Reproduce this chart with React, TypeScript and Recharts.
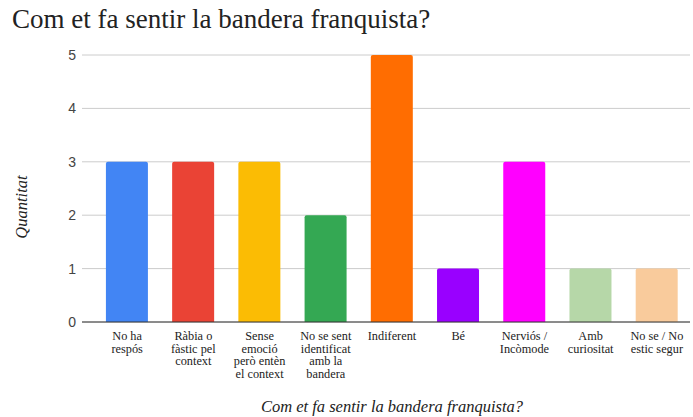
import React from 'react'
import { BarChart, Bar, XAxis, YAxis, CartesianGrid, Cell } from 'recharts'

const categories = [
  'No ha respós',
  'Ràbia o fàstic pel context',
  'Sense emoció però entèn el context',
  'No se sent identificat amb la bandera',
  'Indiferent',
  'Bé',
  'Nerviós / Incòmode',
  'Amb curiositat',
  'No se / No estic segur',
]
const tickLines = [
  ['No ha', 'respós'],
  ['Ràbia o', 'fàstic pel', 'context'],
  ['Sense', 'emoció', 'però entèn', 'el context'],
  ['No se sent', 'identificat', 'amb la', 'bandera'],
  ['Indiferent'],
  ['Bé'],
  ['Nerviós /', 'Incòmode'],
  ['Amb', 'curiositat'],
  ['No se / No', 'estic segur'],
]
const values = [3, 3, 3, 2, 5, 1, 3, 1, 1]
const colors = ['#4285F4', '#EA4335', '#FBBC04', '#34A853', '#FF6D01', '#9900FF', '#FF00FF', '#B6D7A8', '#F9CB9C']
const yTicks = [0, 1, 2, 3, 4, 5]

const data = categories.map((c, i) => ({ name: c, value: values[i] }))

const serif = "'Liberation Serif', 'DejaVu Serif', serif"
const sans = "'Liberation Sans', Arial, sans-serif"

// multi-line category label, one tspan per line
const MultiTick = (props: any) => {
  const { x, y, payload } = props
  const lines = tickLines[payload.index] || [payload.value]
  return (
    <text x={x} y={y + 10} textAnchor='middle' fontFamily={serif} fontSize={12.3} fill='#222'>
      {lines.map((l, i) => (
        <tspan key={i} x={x} dy={i === 0 ? 0 : 12.5}>{l}</tspan>
      ))}
    </text>
  )
}

export default function App() {
  return (
    <div style={{ position: 'absolute', left: 0, top: 0, width: 693, height: 417, background: '#fff' }}>
      <div style={{ position: 'absolute', left: 12, top: 4, fontFamily: serif, fontSize: 27, color: '#222', whiteSpace: 'nowrap', lineHeight: '30px' }}>
        Com et fa sentir la bandera franquista?
      </div>
      <div style={{ position: 'absolute', left: 22, top: 207, transform: 'translate(-50%, -50%) rotate(-90deg)', fontFamily: serif, fontStyle: 'italic', fontSize: 16.5, color: '#222', whiteSpace: 'nowrap' }}>
        Quantitat
      </div>
      <div style={{ position: 'absolute', left: 392, top: 397, transform: 'translateX(-50%)', fontFamily: serif, fontStyle: 'italic', fontSize: 16.5, color: '#222', whiteSpace: 'nowrap', lineHeight: '19px' }}>
        Com et fa sentir la bandera franquista?
      </div>
      <BarChart width={693} height={417} data={data} margin={{ top: 55, right: 3, bottom: 0, left: 0 }} barCategoryGap='18%'>
        <CartesianGrid vertical={false} stroke='#cccccc' />
        <XAxis dataKey='name' interval={0} tick={<MultiTick />} tickLine={false} axisLine={{ stroke: '#333' }} padding={{ left: 12, right: 0 }} height={95} />
        <YAxis domain={[0, 5]} ticks={yTicks} width={82} tickLine={false} axisLine={false} tickMargin={0} tick={{ fontFamily: sans, fontSize: 14, fill: '#444' }} />
        <Bar dataKey='value' isAnimationActive={false} radius={[2, 2, 0, 0]}>
          {data.map((d, i) => (
            <Cell key={d.name} fill={colors[i]} />
          ))}
        </Bar>
      </BarChart>
    </div>
  )
}
